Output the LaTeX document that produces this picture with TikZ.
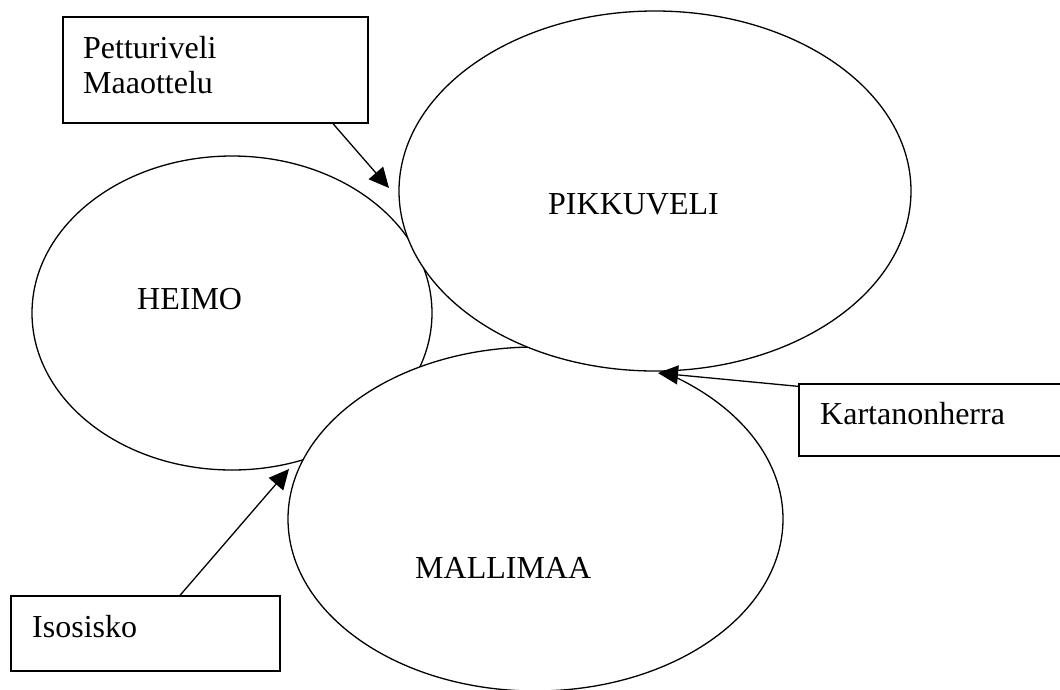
\documentclass[tikz,border=0pt]{standalone}
\usepackage{fontspec}
\setmainfont{Liberation Serif}
\usetikzlibrary{shapes.geometric,arrows.meta}
\tikzset{
  bubble/.style={ellipse,draw,fill=white,line width=1.3pt,inner sep=0pt},
  tagbox/.style={rectangle,draw,line width=1.3pt,inner sep=0pt},
  lbl/.style={anchor=base west,inner sep=0pt,font=\fontsize{32}{36}\selectfont},
  arr/.style={line width=1.3pt,-{Triangle[length=20pt,width=19pt]}}
}
\begin{document}
\begin{tikzpicture}[x=1pt,y=-1pt]
\useasboundingbox (0,0) rectangle (1060,689);
% ellipses
\node[bubble,minimum width=400pt,minimum height=314pt] (heimo) at (232,313) {};
\node[bubble,minimum width=495pt,minimum height=344pt] (malli) at (535.5,519) {};
\node[bubble,minimum width=512pt,minimum height=360pt] (pikku) at (655,191) {};
\node[lbl] (theimo) at (137,309) {HEIMO};
\node[lbl] (tmalli) at (415,578) {MALLIMAA};
\node[lbl] (tpikku) at (548,214) {PIKKUVELI};
% boxes
\node[tagbox,minimum width=305pt,minimum height=106pt] (pet) at (215.5,70) {};
\node[lbl] (tpet1) at (83,58) {Petturiveli};
\node[lbl] (tpet2) at (83,93) {Maaottelu};
\node[tagbox,minimum width=265pt,minimum height=72pt] (kar) at (931.5,420) {};
\node[lbl] (tkar) at (820,424) {Kartanonherra};
\node[tagbox,minimum width=269pt,minimum height=75pt] (iso) at (145.5,633.5) {};
\node[lbl] (tiso) at (32,637) {Isosisko};
% arrow targets
\coordinate (tip1) at (389,188);
\coordinate (tip2) at (658,373);
\coordinate (tip3) at (289,469);
\draw[arr] ([xshift=117.5pt]pet.south) -- (tip1);
\draw[arr] ([yshift=-3pt]kar.north west) -- (tip2);
\draw[arr] ([xshift=34.5pt]iso.north) -- (tip3);
\end{tikzpicture}
\end{document}
